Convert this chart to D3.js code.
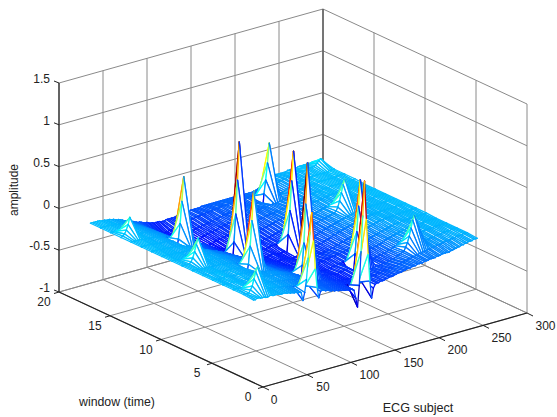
<!DOCTYPE html>
<html><head><meta charset="utf-8">
<script src="https://cdn.jsdelivr.net/npm/d3@7"></script>
<style>html,body{margin:0;padding:0;background:#fff}svg{display:block}text{font-family:"Liberation Sans",Arial,sans-serif;fill:#222}</style>
</head><body><div id="chart"></div>
<script>
const xTicks=[0,50,100,150,200,250,300];
const yTicks=[0,5,10,15,20];
const zTicks=[-1,-0.5,0,0.5,1,1.5];
const xLabel="ECG subject", yLabel="window (time)", zLabel="amplitude";
const subjects=d3.range(1,256,2);
const windows=d3.range(1,18);
// amplitude in hundredths, one row per window, one value per subject column
const row01=[-2,-2,-1,-1,-2,-2,-2,-3,-3,-2,-2,-3,-3,-3,-3,-4,
-4,-4,-4,-5,-5,-6,-6,-7,-7,-8,-8,-9,-19,-10,5,30,
60,83,50,15,-8,-21,-14,-13,-14,-15,-15,-16,-17,-17,-18,-18,
-19,-19,-20,-20,-21,-21,-22,-22,-22,-24,-34,-45,-20,20,62,103,
58,15,-18,-39,-28,-24,-23,-23,-22,-22,-22,-21,-21,-20,-20,-20,
-19,-19,-18,-18,-18,-17,-17,-16,-16,-16,-15,-15,-15,-14,-14,-14,
-14,-13,-13,-13,-12,-12,-12,-12,-11,-11,-11,-10,-10,-10,-10,-10,
-9,-9,-8,-8,-7,-7,-6,-6,-5,-5,-4,-4,-4,-3,-3,-3];
const row02=[-1,-1,-2,-1,2,6,14,22,27,22,14,7,2,-1,-2,-2,
-3,-3,-3,-4,-4,-5,-5,-5,-6,-6,-7,-7,-8,-8,-9,-9,
-10,-10,-11,-11,-12,-12,-13,-13,-14,-14,-15,-16,-16,-17,-17,-18,
-18,-19,-19,-20,-20,-21,-22,-22,-23,-23,-24,-24,-25,-25,-25,-26,
-26,-26,-25,-25,-24,-24,-23,-23,-23,-22,-22,-22,-21,-21,-21,-20,
-20,-20,-20,-19,-19,-19,-18,-18,-17,-17,-16,-16,-15,-15,-14,-14,
-13,-13,-12,-12,-11,-11,-10,-10,-10,-9,-9,-8,-8,-8,-7,-7,
-7,-6,-6,-5,-5,-5,-4,-4,-4,-3,-3,-3,-3,-2,-2,-2];
const row03=[-1,-1,-1,-1,-2,-2,-1,-1,-2,-2,-2,-2,-2,-3,-3,-3,
-3,-3,-4,-4,-4,-4,-5,-5,-5,-6,-6,-6,-7,-7,-7,-8,
-8,-9,-9,-10,-10,-11,-12,-12,-13,-14,-14,-15,-16,-16,-17,-17,
-18,-19,-19,-20,-21,-21,-22,-22,-23,-24,-24,-25,-25,-26,-26,-27,
-27,-27,-27,-26,-26,-25,-25,-24,-24,-24,-23,-23,-23,-22,-22,-22,
-22,-21,-21,-21,-21,-20,-20,-20,-19,-19,-18,-18,-17,-16,-15,-14,
-13,-12,-8,-3,4,13,22,27,22,14,5,-2,-5,-6,-6,-6,
-5,-5,-5,-4,-4,-4,-4,-3,-3,-3,-3,-3,-2,-2,-2,-2];
const row04=[-1,-1,-2,-2,-2,-1,-1,-2,-2,-2,-3,-3,-3,-2,-2,-3,
-3,-3,-4,-4,-4,-5,-5,-5,-5,-6,-6,-6,-7,-6,-7,-7,
-7,-8,-8,-9,-10,-10,-11,-12,-12,-13,-14,-15,-26,-4,22,68,
117,62,22,-8,-28,-24,-22,-22,-23,-23,-24,-24,-24,-25,-25,-26,
-26,-26,-25,-25,-25,-24,-24,-23,-24,-26,-36,-8,18,48,79,46,
16,-8,-34,-24,-20,-20,-20,-19,-19,-18,-18,-17,-17,-16,-15,-15,
-14,-13,-12,-11,-10,-10,-9,-8,-7,-7,-6,-6,-5,-5,-5,-4,
-4,-4,-4,-3,-3,-3,-3,-3,-2,-2,-2,-2,-2,-2,-2,-2];
const row05=[-1,-1,-1,-2,-2,-2,-2,-1,-1,-2,-2,-3,-3,-3,-2,-3,
-3,-3,-4,-4,-4,-4,-5,-5,-5,-5,-6,-7,-7,-8,-8,-8,
-9,-10,-10,-11,-11,-12,-13,-14,-15,-15,-16,-17,-18,-18,-19,-20,
-21,-21,-22,-23,-23,-24,-25,-25,-26,-26,-27,-27,-26,-26,-27,-27,
-27,-27,-26,-26,-25,-25,-25,-24,-24,-24,-23,-23,-22,-22,-22,-21,
-21,-20,-20,-19,-19,-18,-18,-18,-17,-17,-16,-16,-15,-15,-14,-14,
-13,-12,-11,-10,-10,-9,-8,-8,-7,-7,-6,-6,-5,-5,-4,-4,
-4,-4,-3,-3,-3,-3,-3,-3,-2,-2,-2,-2,-2,-2,-2,-2];
const row06=[-1,-1,-2,-2,-1,-1,-2,-2,-2,-2,-2,-3,-3,-3,-3,-3,
-3,-3,-4,-4,-4,-5,-5,-6,-7,-18,-3,18,48,83,48,16,
-6,-22,-14,-12,-12,-13,-14,-15,-16,-17,-18,-18,-19,-20,-21,-22,
-22,-23,-24,-24,-25,-25,-26,-26,-26,-27,-27,-27,-26,-26,-25,-25,
-25,-25,-25,-24,-24,-24,-23,-23,-23,-22,-22,-22,-21,-21,-21,-20,
-20,-19,-19,-18,-18,-17,-17,-16,-16,-15,-15,-14,-14,-13,-13,-12,
-12,-11,-10,-10,-9,-8,-8,-7,-7,-6,-6,-5,-5,-4,-4,-4,
-4,-3,-3,-3,-3,-3,-2,-2,-2,-2,-2,-2,-2,-2,-2,-1];
const row07=[-1,-1,-1,-1,-2,-2,-2,-2,-2,-2,-3,-3,-3,-3,-3,-3,
-3,-4,-4,-4,-4,-5,-5,-6,-6,-7,-8,-8,-9,-9,-10,-10,
-11,-11,-12,-13,-13,-14,-15,-16,-17,-18,-19,-20,-20,-21,-22,-23,
-24,-24,-25,-26,-26,-27,-27,-28,-28,-27,-27,-26,-26,-27,-27,-28,
-28,-28,-27,-27,-26,-26,-25,-25,-24,-24,-24,-23,-23,-22,-22,-21,
-21,-20,-19,-19,-18,-17,-17,-16,-15,-15,-14,-13,-13,-12,-12,-11,
-10,-10,-9,-8,-8,-7,-6,-6,-5,-5,-4,-4,-4,-3,-3,-3,
-3,-3,-3,-3,-2,-2,-2,-2,-2,-2,-2,-2,-2,-1,-1,-1];
const row08=[-1,-1,-1,-1,-1,1,5,12,20,27,20,12,5,1,-2,-2,
-3,-3,-3,-4,-4,-5,-5,-6,-6,-7,-7,-8,-8,-9,-10,-11,
-11,-12,-13,-14,-14,-15,-16,-17,-18,-19,-20,-21,-22,-23,-24,-24,
-25,-25,-26,-26,-27,-27,-28,-28,-27,-27,-27,-28,-28,-28,-29,-29,
-28,-28,-28,-27,-27,-26,-26,-25,-25,-24,-24,-23,-22,-22,-21,-21,
-20,-19,-18,-18,-17,-16,-15,-15,-14,-13,-13,-12,-11,-11,-10,-9,
-9,-8,-7,-7,-6,-6,-5,-5,-4,-4,-4,-3,-3,-3,-3,-3,
-3,-2,-2,-2,-2,-2,-2,-2,-2,-2,-1,-1,-1,-1,-1,-1];
const row09=[-1,-1,-1,-2,-2,-2,-2,-2,-2,-2,-2,-3,-3,-3,-3,-3,
-3,-3,-4,-4,-5,-5,-5,-6,-7,-7,-8,-9,-10,-11,-11,-12,
-13,-14,-15,-15,-16,-17,-18,-19,-20,-21,-22,-22,-23,-24,-25,-25,
-26,-26,-27,-27,-28,-28,-28,-27,-27,-26,-27,-27,-28,-28,-28,-27,
-27,-40,-8,20,55,90,52,20,-8,-38,-28,-24,-23,-22,-21,-20,
-19,-19,-18,-17,-16,-16,-15,-14,-14,-13,-12,-12,-11,-10,-10,-9,
-8,-8,-7,-6,-6,-5,-5,-5,-4,-4,-4,-3,-3,-3,-3,-2,
-2,-2,-2,-2,-2,-2,-2,-2,-2,-2,-1,-1,-1,-1,-1,-1];
const row10=[-1,-1,-1,-1,-2,-2,-2,-2,-2,-2,-3,-3,-3,-3,-3,-3,
-4,-4,-4,-5,-5,-6,-6,-7,-8,-8,-9,-10,-11,-12,-13,-13,
-14,-15,-16,-17,-18,-19,-20,-22,-38,-8,25,65,110,62,22,-8,
-36,-28,-27,-27,-28,-28,-27,-27,-26,-26,-27,-27,-26,-26,-25,-25,
-25,-25,-24,-24,-24,-23,-23,-22,-22,-21,-21,-20,-20,-19,-18,-18,
-17,-17,-16,-16,-15,-14,-14,-13,-13,-12,-11,-11,-10,-10,-9,-9,
-8,-7,-7,-5,-1,6,15,24,30,24,15,6,-1,-4,-4,-4,
-3,-3,-3,-3,-2,-2,-2,-2,-2,-1,-1,-1,-1,-1,-1,-1];
const row11=[-1,-1,-1,-1,-1,-2,-2,-2,-2,-2,-3,-3,-3,-3,-4,-4,
-4,-5,-5,-6,-6,-7,-8,-9,-10,-11,-12,-13,-14,-15,-16,-17,
-18,-19,-20,-21,-22,-23,-24,-25,-26,-27,-27,-28,-29,-29,-30,-30,
-30,-29,-29,-28,-28,-27,-27,-27,-26,-26,-25,-25,-24,-24,-25,-25,
-24,-24,-23,-23,-22,-22,-21,-21,-20,-20,-19,-19,-18,-18,-17,-17,
-16,-16,-15,-15,-14,-14,-13,-13,-12,-12,-11,-11,-10,-10,-9,-8,
-8,-7,-7,-6,-6,-5,-5,-4,-4,-4,-3,-3,-3,-3,-2,-2,
-2,-2,-2,-2,-2,-2,-1,-1,-1,-1,-1,-1,-1,-1,-1,-1];
const row12=[-1,-1,-1,-1,-1,-1,-2,-2,-2,-2,-3,-3,-3,-3,-3,-4,
-4,-5,-5,-8,-20,-4,14,40,69,38,12,-6,-24,-14,-13,-14,
-15,-16,-17,-18,-19,-21,-22,-23,-25,-26,-27,-29,-30,-30,-31,-31,
-30,-30,-29,-28,-28,-27,-27,-26,-26,-25,-25,-24,-24,-23,-23,-23,
-22,-22,-21,-21,-20,-20,-19,-19,-18,-18,-17,-17,-16,-16,-15,-15,
-14,-14,-13,-13,-12,-12,-11,-11,-10,-10,-9,-9,-8,-8,-7,-7,
-6,-6,-5,-5,-5,-4,-4,-4,-3,-3,-3,-2,-2,-2,-2,-2,
-2,-2,-1,-1,-1,-1,-1,-1,-1,-1,-1,-1,-1,-1,-1,-1];
const row13=[-1,-1,-1,-1,-1,-1,-1,-2,-2,-2,-2,-3,-3,-3,-4,-4,
-5,-5,-6,-6,-7,-8,-9,-10,-11,-13,-14,-15,-16,-17,-18,-19,
-20,-21,-23,-24,-26,-27,-28,-30,-31,-32,-32,-32,-31,-30,-30,-29,
-28,-28,-27,-27,-26,-26,-25,-25,-24,-24,-23,-23,-22,-22,-21,-21,
-20,-20,-19,-19,-18,-18,-18,-17,-17,-16,-16,-16,-15,-15,-15,-14,
-14,-14,-13,-13,-13,-12,-12,-12,-11,-11,-10,-10,-9,-9,-8,-8,
-7,-7,-6,-6,-5,-5,-4,-4,-4,-3,-3,-3,-3,-2,-2,-2,
-2,-1,-1,-1,-1,-1,-1,-1,-1,-1,-1,-1,-1,-1,-1,0];
const row14=[-1,0,2,6,12,20,12,6,2,0,-2,-3,-3,-3,-4,-4,
-5,-5,-6,-7,-7,-8,-9,-10,-12,-13,-15,-16,-17,-18,-19,-20,
-21,-22,-24,-25,-27,-28,-30,-31,-32,-32,-31,-31,-30,-29,-28,-27,
-27,-26,-26,-25,-25,-24,-24,-23,-22,-22,-21,-21,-21,-20,-20,-19,
-19,-18,-18,-18,-17,-17,-16,-16,-16,-15,-15,-15,-14,-14,-14,-14,
-13,-13,-13,-13,-12,-12,-12,-12,-12,-12,-11,-11,-10,-10,-9,-9,
-8,-7,-6,-6,-5,-5,-4,-4,-3,-3,-3,-2,-2,-2,-2,-2,
-1,-1,-1,-1,-1,-1,-1,-1,-1,-1,-1,0,0,0,0,0];
const row15=[-1,-1,-1,-1,-1,-1,-2,-2,-2,-2,-3,-3,-3,-3,-4,-4,
-5,-6,-6,-7,-8,-9,-10,-11,-12,-14,-15,-17,-18,-20,-21,-22,
-23,-25,-26,-27,-28,-29,-29,-30,-30,-30,-29,-28,-28,-27,-26,-26,
-25,-25,-24,-24,-23,-23,-22,-22,-22,-21,-21,-20,-20,-20,-19,-19,
-18,-18,-18,-17,-17,-17,-16,-16,-16,-16,-15,-15,-15,-15,-15,-15,
-16,-16,-16,-15,-15,-15,-30,-6,10,30,53,28,10,-8,-26,-14,
-12,-11,-10,-9,-8,-7,-6,-6,-5,-5,-4,-4,-3,-3,-3,-2,
-2,-2,-2,-1,-1,-1,-1,-1,-1,-1,-1,-1,0,0,0,0];
const row16=[-1,-1,-1,-1,-1,-1,-2,-2,-2,-2,-3,-3,-4,-4,-5,-5,
-6,-6,-7,-8,-9,-10,-11,-12,-13,-15,-16,-17,-19,-20,-21,-23,
-24,-25,-26,-27,-28,-28,-28,-27,-27,-26,-26,-25,-25,-24,-24,-23,
-23,-22,-22,-22,-21,-21,-20,-20,-20,-19,-19,-19,-18,-18,-18,-18,
-17,-17,-17,-17,-16,-16,-16,-16,-16,-15,-15,-15,-15,-15,-15,-15,
-15,-15,-15,-14,-14,-14,-14,-14,-14,-13,-13,-13,-13,-12,-12,-11,
-11,-10,-9,-8,-7,-6,-5,-5,-4,-4,-3,-3,-3,-2,-2,-2,
-2,-1,-1,-1,-1,0,0,0,0,1,2,4,6,8,6,3];
const row17=[-1,-1,-1,-1,-1,-1,-2,-2,-2,-3,-3,-3,-4,-4,-5,-6,
-6,-7,-8,-9,-10,-10,-11,-12,-13,-14,-15,-16,-16,-17,-18,-19,
-19,-20,-21,-21,-22,-22,-22,-22,-23,-23,-23,-22,-22,-22,-22,-22,
-22,-21,-21,-21,-21,-20,-20,-20,-20,-19,-19,-19,-19,-19,-19,-18,
-18,-18,-18,-18,-18,-18,-18,-18,-18,-18,-18,-18,-18,-18,-18,-18,
-18,-18,-18,-18,-18,-18,-18,-18,-18,-18,-18,-18,-18,-18,-17,-16,
-15,-14,-13,-11,-10,-8,-7,-6,-5,-5,-5,-5,-5,-5,-5,-5,
-4,-4,-4,-4,-4,-4,-3,-3,-3,-3,-3,-3,-3,-3,-2,-2];
const rows=[row01,row02,row03,row04,row05,row06,row07,row08,row09,row10,row11,row12,row13,row14,row15,row16,row17];

const W=557,H=417, ox=263, oy=387;
const sxX=d3.scaleLinear().domain([0,300]).range([0,264]);
const sxY=d3.scaleLinear().domain([0,20]).range([0,-204]);
const syX=d3.scaleLinear().domain([0,300]).range([0,-74]);
const syY=d3.scaleLinear().domain([0,20]).range([0,-95]);
const syZ=d3.scaleLinear().domain([-1,1.5]).range([0,-209]);
const P=(x,y,z)=>[ox+sxX(x)+sxY(y), oy+syX(x)+syY(y)+syZ(z)];
const zMin=-0.54,zMax=1.17;
const tz=d3.scaleLinear().domain([zMin,zMax]).range([0,1]);
const jet=d3.scaleLinear().domain([0,.125,.375,.625,.875,1])
  .range(["#000090","#0000ff","#00ffff","#ffff00","#ff0000","#800000"]).clamp(true);
const colour=z=>jet(tz(z));
const line=d3.line();
const svg=d3.select("#chart").append("svg").attr("width",W).attr("height",H);
const seg=(a,b,stroke,w)=>svg.append("path").attr("d",line([a,b])).attr("fill","none").attr("stroke",stroke).attr("stroke-width",w);

// box and grid
const gridCol="#8a8a8a";
xTicks.forEach(x=>{
  seg(P(x,0,-1),P(x,20,-1),gridCol,1);
  seg(P(x,20,-1),P(x,20,1.5),gridCol,1);
});
yTicks.forEach(y=>{
  seg(P(0,y,-1),P(300,y,-1),gridCol,1);
  seg(P(300,y,-1),P(300,y,1.5),gridCol,1);
});
zTicks.forEach(z=>{
  seg(P(0,20,z),P(300,20,z),gridCol,1);
  seg(P(300,20,z),P(300,0,z),gridCol,1);
});
seg(P(300,20,-1),P(300,20,1.5),"#444",1);

// mesh, drawn back to front; white faces hide what lies behind and each
// edge takes the flat colour of its first vertex, as a MATLAB mesh does
const marks=[];
const vertex=(c,r)=>P(subjects[c],windows[r],rows[r][c]/100);
function edge(c1,r1,c2,r2){
  marks.push({d:line([vertex(c1,r1),vertex(c2,r2)]),stroke:colour(rows[r1][c1]/100),fill:"none"});
}
for(let r=rows.length-2;r>=0;r--){
  for(let c=subjects.length-2;c>=0;c--){
    const q=[[c,r],[c+1,r],[c+1,r+1],[c,r+1]].map(([i,j])=>vertex(i,j));
    marks.push({d:line(q)+"Z",stroke:"none",fill:"#fff"});
    edge(c,r+1,c+1,r+1);
    edge(c+1,r,c+1,r+1);
    edge(c,r,c,r+1);
    edge(c,r,c+1,r);
  }
}
svg.append("g").attr("stroke-width",1.3).attr("stroke-linecap","round")
  .selectAll("path").data(marks).join("path")
  .attr("d",d=>d.d).attr("fill",d=>d.fill).attr("stroke",d=>d.stroke);

// axes
const axisCol="#222";
seg(P(0,20,-1),P(0,20,1.5),axisCol,1.2);
seg(P(0,0,-1),P(0,20,-1),axisCol,1.2);
seg(P(0,0,-1),P(300,0,-1),axisCol,1.2);
const label=(t,x,y,a,s)=>svg.append("text").attr("x",x).attr("y",y).attr("text-anchor",a||"middle")
  .attr("dominant-baseline","middle").attr("font-size",s||12).text(t);
zTicks.forEach(z=>{
  const p=P(0,20,z);
  seg(p,[p[0]-5,p[1]-2],axisCol,1);
  label(String(z),p[0]-9,p[1]-3,"end");
});
yTicks.forEach(y=>{
  const p=P(0,y,-1);
  seg(p,[p[0]-5,p[1]+1.5],axisCol,1);
  label(String(y),p[0]-15,p[1]+11);
});
xTicks.forEach(x=>{
  const p=P(x,0,-1);
  seg(p,[p[0]+6,p[1]+3],axisCol,1);
  label(String(x),p[0]+(x===0?11:x===50?16:18.5),p[1]+13.5);
});
label(yLabel,117,403,"middle",12.3);
label(xLabel,418,409,"middle",12.6);
svg.append("text").attr("transform","translate(15,190) rotate(-90)").attr("text-anchor","middle")
  .attr("dominant-baseline","middle").attr("font-size",12).text(zLabel);
</script></body></html>
